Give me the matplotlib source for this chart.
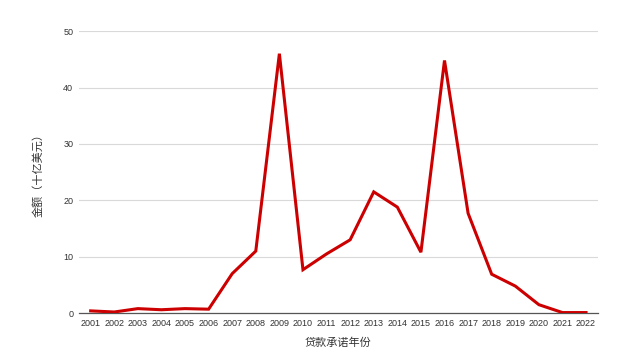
import numpy as np
import matplotlib
matplotlib.use("Agg")
import matplotlib.pyplot as plt

plt.rcParams['font.family'] = ['Liberation Sans', 'Noto Sans CJK SC', 'DejaVu Sans']

years = [str(y) for y in range(2001, 2023)]
amounts = [0.4, 0.2, 0.8, 0.6, 0.8, 0.7, 7.0, 11.0, 46.0, 7.7, 10.5,
           13.0, 21.5, 18.8, 10.8, 44.8, 17.7, 6.9, 4.8, 1.5, 0.1, 0.1]
yticks = [0, 10, 20, 30, 40, 50]

fig = plt.figure(figsize=(6.36, 3.62), dpi=100)
ax = fig.add_axes([0.124, 0.135, 0.816, 0.779])

x = np.arange(len(years))
ax.plot(x, amounts, color='#cc0000', linewidth=2.2, solid_joinstyle='miter', zorder=3)

ax.set_xlim(-0.5, len(years) - 0.5)
ax.set_ylim(0, 50)
ax.set_yticks(yticks)
ax.set_xticks(x)
ax.set_xticklabels(years)
ax.tick_params(length=0, labelsize=6.5, colors='#333333', pad=4)
ax.grid(axis='y', color='#d9d9d9', linewidth=0.8)
ax.set_axisbelow(True)
for side in ['top', 'right', 'left']:
    ax.spines[side].set_visible(False)
ax.spines['bottom'].set_color('#555555')
ax.spines['bottom'].set_linewidth(0.9)

ax.set_xlabel('贷款承诺年份', fontsize=8, color='#333333', labelpad=7)
ax.set_ylabel('金额（十亿美元）', fontsize=8, color='#333333', labelpad=14)

fig.savefig('out.png', dpi=100, facecolor='white')
